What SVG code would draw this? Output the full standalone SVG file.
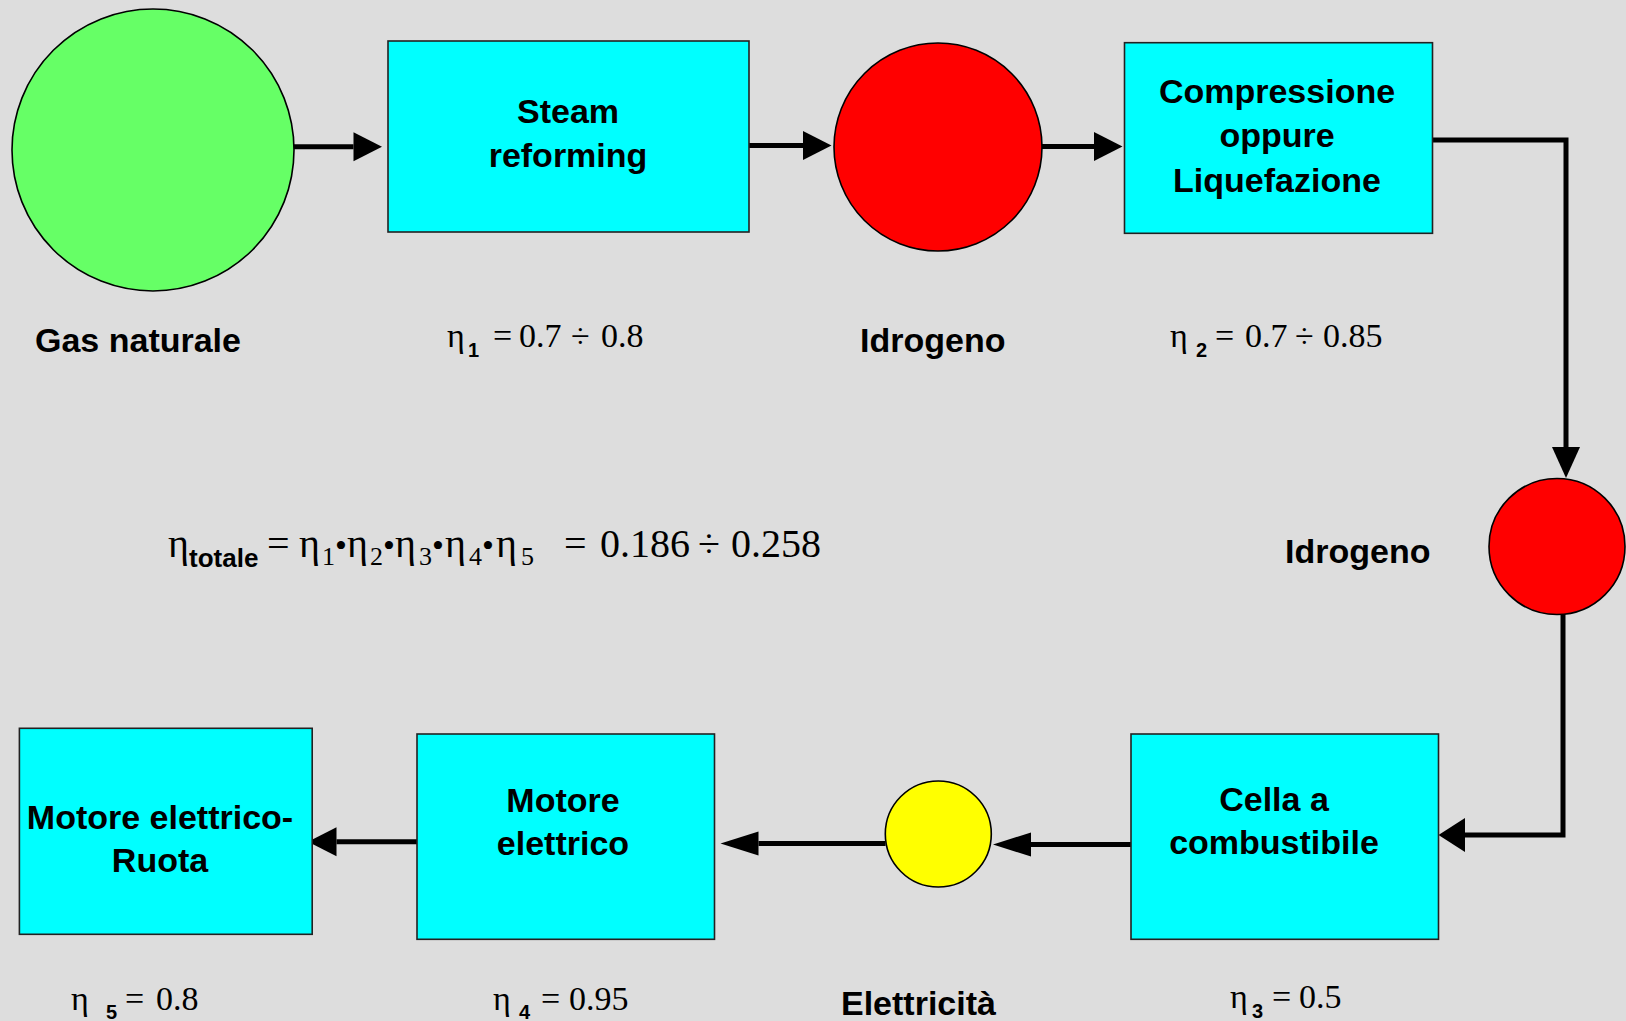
<svg xmlns="http://www.w3.org/2000/svg" width="1626" height="1021" viewBox="0 0 1626 1021">
<style>
.box{fill:#00ffff;stroke:#222;stroke-width:1.6}
.node{stroke:#000;stroke-width:1.6}
.lbl{font-family:"Liberation Sans",Arial,sans-serif;font-weight:bold;font-size:34px;fill:#000}
.ctr{text-anchor:middle}
.eq{font-family:"Liberation Serif","Times New Roman",serif;font-size:34px;fill:#000}
.eqb{font-family:"Liberation Serif","Times New Roman",serif;font-size:40px;fill:#000}
.eqs{font-size:26px}
.dot{font-size:34px}
.sub{font-family:"Liberation Sans",Arial,sans-serif;font-weight:bold;font-size:20px}
.subt{font-family:"Liberation Sans",Arial,sans-serif;font-weight:bold;font-size:26px}
.conn{fill:none;stroke:#000;stroke-width:5;stroke-linejoin:miter}
</style>
<defs>
<marker id="ah" markerUnits="userSpaceOnUse" viewBox="0 0 29 30" markerWidth="29" markerHeight="30" refX="0" refY="15" orient="auto" overflow="visible"><path d="M0,0.5 L28.5,15 L0,29.5 Z" fill="#000"/></marker>
<marker id="ahDown" markerUnits="userSpaceOnUse" viewBox="0 0 31 30" markerWidth="31" markerHeight="30" refX="0" refY="15" orient="auto" overflow="visible"><path d="M0,1 L31,15 L0,29 Z" fill="#000"/></marker>
<marker id="ahWide" markerUnits="userSpaceOnUse" viewBox="0 0 27 34" markerWidth="27" markerHeight="34" refX="0" refY="17" orient="auto" overflow="visible"><path d="M0,0 L26.5,17 L0,34 Z" fill="#000"/></marker>
<marker id="ahLong" markerUnits="userSpaceOnUse" viewBox="0 0 38 24" markerWidth="38" markerHeight="24" refX="0" refY="12" orient="auto" overflow="visible"><path d="M0,0 L38,12 L0,24 Z" fill="#000"/></marker>
</defs>
<rect x="0" y="0" width="1626" height="1021" fill="#dddddd"/>

<g id="connectors">
<path class="conn" d="M294,146.7 H353.5" marker-end="url(#ah)"/>
<path class="conn" d="M749,145.5 H803" marker-end="url(#ah)"/>
<path class="conn" d="M1041,146.5 H1094" marker-end="url(#ah)"/>
<path class="conn" d="M1433,140 H1566 V447" marker-end="url(#ahDown)"/>
<path class="conn" d="M1563,614 V835 H1465" marker-end="url(#ahWide)"/>
<path class="conn" d="M1131,844.5 H1031" marker-end="url(#ahLong)"/>
<path class="conn" d="M885.5,843.5 H758.5" marker-end="url(#ahLong)"/>
<path class="conn" d="M417,841.7 H336.5" marker-end="url(#ah)"/>
</g>

<g id="gas-naturale">
<circle class="node" cx="153" cy="150" r="141" fill="#66ff66"/>
<text class="lbl" x="35" y="352">Gas naturale</text>
</g>

<g id="steam-reforming">
<rect class="box" x="388" y="41" width="361" height="191"/>
<text class="lbl ctr" x="568" y="123">Steam</text>
<text class="lbl ctr" x="568" y="167">reforming</text>
</g>

<g id="eta1">
<text class="eq" x="447" y="347">η<tspan class="sub" x="468" y="357">1</tspan><tspan x="493" y="347">=</tspan><tspan x="519">0.7</tspan><tspan x="571">÷</tspan><tspan x="601">0.8</tspan></text>
</g>

<g id="idrogeno-1">
<circle class="node" cx="938" cy="147" r="104" fill="#ff0000"/>
<text class="lbl" x="860" y="352">Idrogeno</text>
</g>

<g id="compressione">
<rect class="box" x="1124.5" y="42.7" width="308" height="190.6"/>
<text class="lbl ctr" x="1277" y="103">Compressione</text>
<text class="lbl ctr" x="1277" y="147">oppure</text>
<text class="lbl ctr" x="1277" y="192">Liquefazione</text>
</g>

<g id="eta2">
<text class="eq" x="1170" y="347">η<tspan class="sub" x="1196" y="357">2</tspan><tspan x="1215" y="347">=</tspan><tspan x="1245">0.7</tspan><tspan x="1295">÷</tspan><tspan x="1323">0.85</tspan></text>
</g>

<g id="idrogeno-2">
<circle class="node" cx="1557" cy="546.5" r="68" fill="#ff0000"/>
<text class="lbl" x="1285" y="563">Idrogeno</text>
</g>

<g id="eta-totale">
<text class="eqb" x="168" y="557">η<tspan class="subt" x="189" y="567">totale</tspan><tspan x="267" y="557">=</tspan><tspan x="299">η</tspan><tspan class="eqs" x="322" y="565">1</tspan><tspan class="dot" x="335" y="557">•</tspan><tspan x="347">η</tspan><tspan class="eqs" x="370" y="565">2</tspan><tspan class="dot" x="383" y="557">•</tspan><tspan x="395">η</tspan><tspan class="eqs" x="419" y="565">3</tspan><tspan class="dot" x="432" y="557">•</tspan><tspan x="445">η</tspan><tspan class="eqs" x="469" y="565">4</tspan><tspan class="dot" x="482" y="557">•</tspan><tspan x="496">η</tspan><tspan class="eqs" x="521" y="565">5</tspan><tspan x="564" y="557">=</tspan><tspan x="600">0.186</tspan><tspan x="698">÷</tspan><tspan x="731">0.258</tspan></text>
</g>

<g id="cella">
<rect class="box" x="1131" y="734" width="307.5" height="205.3"/>
<text class="lbl ctr" x="1274" y="811">Cella a</text>
<text class="lbl ctr" x="1274" y="854">combustibile</text>
</g>

<g id="eta3">
<text class="eq" x="1230" y="1008">η<tspan class="sub" x="1252" y="1018">3</tspan><tspan x="1272" y="1008">=</tspan><tspan x="1299">0.5</tspan></text>
</g>

<g id="elettricita">
<circle class="node" cx="938.3" cy="834" r="53" fill="#ffff00"/>
<text class="lbl" x="841" y="1015">Elettricità</text>
</g>

<g id="motore-elettrico">
<rect class="box" x="417" y="734" width="297.5" height="205.3"/>
<text class="lbl ctr" x="563" y="812">Motore</text>
<text class="lbl ctr" x="563" y="855">elettrico</text>
</g>

<g id="eta4">
<text class="eq" x="493" y="1010">η<tspan class="sub" x="519" y="1019">4</tspan><tspan x="541" y="1010">=</tspan><tspan x="569">0.95</tspan></text>
</g>

<g id="motore-ruota">
<rect class="box" x="19.4" y="728.3" width="292.8" height="206"/>
<text class="lbl ctr" x="160" y="829">Motore elettrico-</text>
<text class="lbl ctr" x="160" y="872">Ruota</text>
</g>

<g id="eta5">
<text class="eq" x="71" y="1010">η<tspan class="sub" x="106" y="1019">5</tspan><tspan x="125" y="1010">=</tspan><tspan x="156">0.8</tspan></text>
</g>
</svg>
